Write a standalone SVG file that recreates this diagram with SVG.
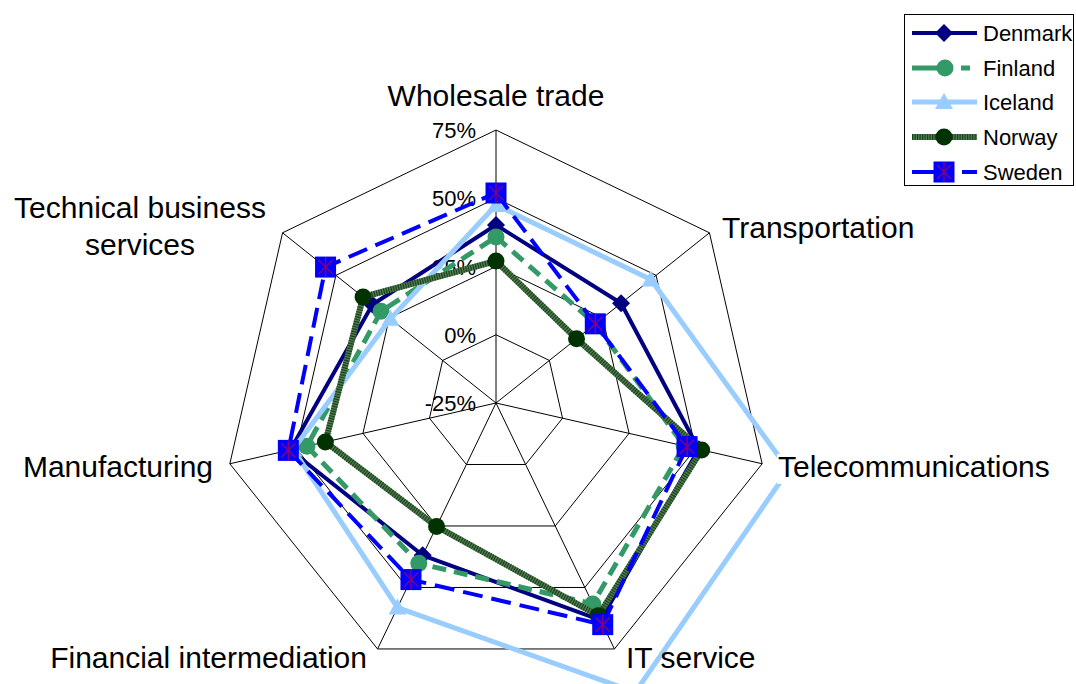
<svg xmlns="http://www.w3.org/2000/svg" xmlns:xlink="http://www.w3.org/1999/xlink" width="1076" height="684" viewBox="0 0 1076 684">
<style>
.grid{fill:none;stroke:#000;stroke-width:1}
.axis{stroke:#000;stroke-width:1}
.tick{font-family:"Liberation Sans",Arial,sans-serif;font-size:22px;text-anchor:end;fill:#000}
.cat{font-family:"Liberation Sans",Arial,sans-serif;font-size:30px;fill:#000}
.leg{font-family:"Liberation Sans",Arial,sans-serif;font-size:22px;fill:#000}
.dk{fill:none;stroke:#000080;stroke-width:4;stroke-linejoin:round}
.fi{fill:none;stroke:#339966;stroke-width:5;stroke-dasharray:14 8}
.is{fill:none;stroke:#99CCFF;stroke-width:5;stroke-linejoin:round}
.nob{fill:none;stroke:#4f7f4f;stroke-width:6;stroke-linejoin:round}
.nos{fill:none;stroke:#1f401f;stroke-width:6;stroke-dasharray:1.2 1.3}
.se{fill:none;stroke:#0000FF;stroke-width:4;stroke-dasharray:20 9}
</style>
<defs>
<g id="mk-dk"><polygon points="0,-9 9,0 0,9 -9,0" fill="#000080"/></g>
<g id="mk-fi"><circle r="8.5" fill="#339966"/></g>
<g id="mk-is"><polygon points="0,-9 9,7 -9,7" fill="#99CCFF"/></g>
<g id="mk-no"><circle r="8.5" fill="#003300"/></g>
<g id="mk-se"><rect x="-10.5" y="-10.5" width="21" height="21" fill="#0000FF"/><path d="M-7,-7L7,7M7,-7L-7,7M0,-10V10" stroke="#800080" stroke-width="1.5"/></g>
</defs>
<rect width="1076" height="684" fill="#fff"/>
<g id="grid">
<polygon class="grid" points="496,334.75 549.36,360.45 562.54,418.19 525.61,464.49 466.39,464.49 429.46,418.19 442.64,360.45"/>
<polygon class="grid" points="496,266.5 602.72,317.89 629.08,433.37 555.23,525.98 436.77,525.98 362.92,433.37 389.28,317.89"/>
<polygon class="grid" points="496,198.25 656.08,275.34 695.62,448.56 584.84,587.47 407.16,587.47 296.38,448.56 335.92,275.34"/>
<polygon class="grid" points="496,130 709.44,232.79 762.16,463.75 614.45,648.96 377.55,648.96 229.84,463.75 282.56,232.79"/>
<path class="axis" d="M496,403L496,130M496,403L709.44,232.79M496,403L762.16,463.75M496,403L614.45,648.96M496,403L377.55,648.96M496,403L229.84,463.75M496,403L282.56,232.79"/>
</g>
<g id="ticks">
<text class="tick" x="476" y="138">75%</text>
<text class="tick" x="476" y="206">50%</text>
<text class="tick" x="476" y="274.5">25%</text>
<text class="tick" x="476" y="343">0%</text>
<text class="tick" x="476" y="411">-25%</text>
</g>
<g id="connectors">
<g id="series-denmark">
<polygon class="dk" points="496,225 621.09,303.24 698.79,449.28 600.57,620.13 422.67,555.26 290.29,449.95 372.47,304.49"/>
<use xlink:href="#mk-dk" x="496" y="225"/><use xlink:href="#mk-dk" x="621.09" y="303.24"/><use xlink:href="#mk-dk" x="698.79" y="449.28"/><use xlink:href="#mk-dk" x="600.57" y="620.13"/><use xlink:href="#mk-dk" x="422.67" y="555.26"/><use xlink:href="#mk-dk" x="290.29" y="449.95"/><use xlink:href="#mk-dk" x="372.47" y="304.49"/>
</g>
<g id="series-finland">
<polygon class="fi" points="496,237 595.29,323.82 684.16,445.95 592.76,603.92 418.77,563.37 306.86,446.17 381.07,311.35"/>
<use xlink:href="#mk-fi" x="496" y="237"/><use xlink:href="#mk-fi" x="595.29" y="323.82"/><use xlink:href="#mk-fi" x="684.16" y="445.95"/><use xlink:href="#mk-fi" x="592.76" y="603.92"/><use xlink:href="#mk-fi" x="418.77" y="563.37"/><use xlink:href="#mk-fi" x="306.86" y="446.17"/><use xlink:href="#mk-fi" x="381.07" y="311.35"/>
</g>
<g id="series-iceland">
<polygon class="is" points="496,205 650.8,279.55 788.48,469.76 635.28,692.21 397.51,607.52 293.21,449.28 390.45,318.83"/>
<use xlink:href="#mk-is" x="496" y="205"/><use xlink:href="#mk-is" x="650.8" y="279.55"/><use xlink:href="#mk-is" x="788.48" y="469.76"/><use xlink:href="#mk-is" x="397.51" y="607.52"/><use xlink:href="#mk-is" x="293.21" y="449.28"/><use xlink:href="#mk-is" x="390.45" y="318.83"/>
</g>
<g id="series-norway">
<polygon class="nob" points="496,261 576.53,338.78 701.71,449.95 598.4,615.63 436.56,526.43 325.39,441.94 363.09,297.01"/>
<polygon class="nos" points="496,261 576.53,338.78 701.71,449.95 598.4,615.63 436.56,526.43 325.39,441.94 363.09,297.01"/>
<use xlink:href="#mk-no" x="496" y="261"/><use xlink:href="#mk-no" x="576.53" y="338.78"/><use xlink:href="#mk-no" x="701.71" y="449.95"/><use xlink:href="#mk-no" x="598.4" y="615.63"/><use xlink:href="#mk-no" x="436.56" y="526.43"/><use xlink:href="#mk-no" x="325.39" y="441.94"/><use xlink:href="#mk-no" x="363.09" y="297.01"/>
</g>
<g id="series-sweden">
<polygon class="se" points="496,193 595.29,323.82 687.09,446.61 602.73,624.64 410.96,579.59 288.34,450.4 325.56,267.08"/>
<use xlink:href="#mk-se" x="496" y="193"/><use xlink:href="#mk-se" x="595.29" y="323.82"/><use xlink:href="#mk-se" x="687.09" y="446.61"/><use xlink:href="#mk-se" x="602.73" y="624.64"/><use xlink:href="#mk-se" x="410.96" y="579.59"/><use xlink:href="#mk-se" x="288.34" y="450.4"/><use xlink:href="#mk-se" x="325.56" y="267.08"/>
</g>
</g>
<g id="categories">
<text id="cat-wholesale" class="cat" x="496" y="106" text-anchor="middle">Wholesale trade</text>
<text id="cat-transportation" class="cat" x="722" y="238">Transportation</text>
<rect x="777" y="454" width="276" height="30" fill="#fff"/>
<text id="cat-telecom" class="cat" x="778" y="477">Telecommunications</text>
<text id="cat-it" class="cat" x="626" y="668">IT service</text>
<text id="cat-financial" class="cat" x="367" y="668" text-anchor="end">Financial intermediation</text>
<text id="cat-manufacturing" class="cat" x="213" y="477" text-anchor="end">Manufacturing</text>
<text id="cat-technical" class="cat" x="140" y="218" text-anchor="middle">Technical business<tspan x="140" y="255">services</tspan></text>
</g>
<g id="legend">
<rect x="904.5" y="14.5" width="169" height="171" fill="#fff" stroke="#000" stroke-width="1"/>
<path d="M912,33H977" stroke="#000080" stroke-width="4"/><use xlink:href="#mk-dk" x="944" y="33"/>
<text class="leg" x="983" y="41">Denmark</text>
<path d="M912,68H950M961,68H970" stroke="#339966" stroke-width="5"/><use xlink:href="#mk-fi" x="945" y="68"/>
<text class="leg" x="983" y="76">Finland</text>
<path d="M912,102H977" stroke="#99CCFF" stroke-width="5"/><use xlink:href="#mk-is" x="944" y="102"/>
<text class="leg" x="983" y="110">Iceland</text>
<path d="M912,137H977" stroke="#4f7f4f" stroke-width="6"/><path d="M912,137H977" stroke="#1f401f" stroke-width="6" stroke-dasharray="1.2 1.3"/><use xlink:href="#mk-no" x="944" y="137"/>
<text class="leg" x="983" y="145">Norway</text>
<path d="M912,172H945M962,172H977" stroke="#0000FF" stroke-width="4"/><use xlink:href="#mk-se" x="944" y="172"/>
<text class="leg" x="983" y="180">Sweden</text>
</g>
</svg>
